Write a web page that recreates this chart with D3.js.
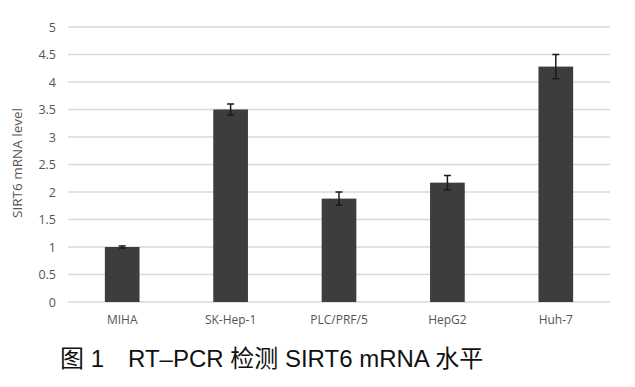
<!DOCTYPE html>
<html><head><meta charset="utf-8">
<script src="https://cdn.jsdelivr.net/npm/d3@7"></script>
<style>body{margin:0;background:#fff}svg{display:block}</style>
</head><body>
<script>
const categories = ["MIHA", "SK-Hep-1", "PLC/PRF/5", "HepG2", "Huh-7"];
const values = [1.0, 3.5, 1.88, 2.17, 4.28];
const errors = [0.02, 0.1, 0.12, 0.13, 0.22];
const yTicks = [0, 0.5, 1, 1.5, 2, 2.5, 3, 3.5, 4, 4.5, 5];
const yTitle = "SIRT6 mRNA level";
const caption = "图 1　RT–PCR 检测 SIRT6 mRNA 水平";

const W = 635, H = 387;
const svg = d3.select("body").append("svg").attr("width", W).attr("height", H);
const x = d3.scaleBand().domain(categories).range([68, 610]).paddingInner(0.68).paddingOuter(0.34);
const y = d3.scaleLinear().domain([0, 5]).range([302, 27]);

const font = "'Open Sans', 'DejaVu Sans', sans-serif";

// gridlines
svg.append("g").selectAll("line").data(yTicks).join("line")
  .attr("x1", 68).attr("x2", 610)
  .attr("y1", d => y(d)).attr("y2", d => y(d))
  .attr("stroke", "#d9d9d9").attr("stroke-width", 1.5);

// y axis labels
const yAxis = d3.axisLeft(y).tickValues(yTicks).tickSize(0).tickPadding(0).tickFormat(d => d);
const ga = svg.append("g").attr("transform", "translate(56,0)").call(yAxis);
ga.select(".domain").remove();
ga.selectAll("text").attr("fill", "#555").style("font-family", font).style("font-size", "12.5px");

// x axis labels
const xAxis = d3.axisBottom(x).tickSize(0).tickPadding(0);
const gx = svg.append("g").attr("transform", "translate(0,315)").call(xAxis);
gx.select(".domain").remove();
gx.selectAll("text").attr("fill", "#555").style("font-family", font).style("font-size", "12px");

// bars
svg.append("g").selectAll("rect").data(categories).join("rect")
  .attr("x", d => x(d)).attr("width", x.bandwidth())
  .attr("y", (d, i) => y(values[i])).attr("height", (d, i) => y(0) - y(values[i]))
  .attr("fill", "#3d3d3d");

// error bars
const eg = svg.append("g").attr("stroke", "#1a1a1a").attr("stroke-width", 1.5);
categories.forEach((c, i) => {
  const cx = x(c) + x.bandwidth() / 2;
  const hi = y(values[i] + errors[i]), lo = y(values[i] - errors[i]);
  eg.append("line").attr("x1", cx).attr("x2", cx).attr("y1", hi).attr("y2", lo);
  eg.append("line").attr("x1", cx - 3.5).attr("x2", cx + 3.5).attr("y1", hi).attr("y2", hi);
  eg.append("line").attr("x1", cx - 3.5).attr("x2", cx + 3.5).attr("y1", lo).attr("y2", lo);
});

// y title
svg.append("text").attr("transform", "translate(22,163) rotate(-90)")
  .attr("text-anchor", "middle").attr("fill", "#555")
  .style("font-family", font).style("font-size", "13.5px").text(yTitle);

// caption
svg.append("text").attr("x", 60).attr("y", 367)
  .attr("fill", "#111").style("font-family", "'Liberation Sans', 'Noto Sans CJK SC', sans-serif")
  .style("font-size", "24px").text(caption);
</script>
</body></html>
